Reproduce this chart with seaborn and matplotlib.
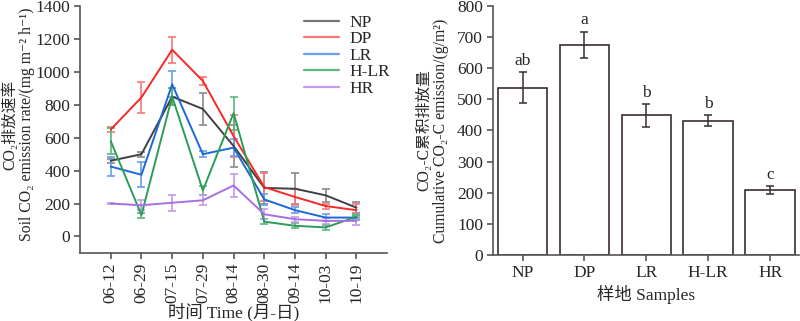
import numpy as np
import pandas as pd
import matplotlib
matplotlib.use("Agg")
import matplotlib.pyplot as plt
import seaborn as sns
from matplotlib.lines import Line2D

sns.set_style("ticks")
plt.rcParams['font.family'] = ['Liberation Serif', 'Noto Sans CJK SC', 'DejaVu Sans']
plt.rcParams['axes.unicode_minus'] = False

dates = ["06-12", "06-29", "07-15", "07-29", "08-14", "08-30", "09-14", "10-03", "10-19"]
series_names = ["NP", "DP", "LR", "H-LR", "HR"]

np_vals = [460, 500, 850, 775, 550, 295, 290, 250, 175]
np_err = [12, 15, 50, 95, 130, 95, 95, 40, 35]
dp_vals = [650, 845, 1135, 945, 610, 300, 240, 185, 160]
dp_err = [15, 95, 80, 25, 130, 85, 50, 15, 40]
lr_vals = [425, 375, 925, 500, 540, 225, 160, 115, 115]
lr_err = [55, 75, 80, 20, 50, 35, 20, 20, 15]
hlr_vals = [580, 130, 850, 280, 750, 90, 65, 55, 120]
hlr_err = [80, 15, 50, 25, 100, 15, 15, 15, 10]
hr_vals = [200, 190, 205, 220, 310, 135, 105, 95, 95]
hr_err = [5, 30, 50, 30, 70, 30, 15, 20, 25]

samples = ["NP", "DP", "LR", "H-LR", "HR"]
cum_vals = [537, 675, 449, 432, 208]
cum_err = [50, 43, 37, 17, 12]
sig_letters = ["ab", "a", "b", "b", "c"]

colors = {"NP": "#404040", "DP": "#f62828", "LR": "#1d68d8", "H-LR": "#2a9d5a", "HR": "#a86ee0"}
err_colors = {"NP": "#8a8a8a", "DP": "#f87878", "LR": "#6a9ee8", "H-LR": "#5ab67e", "HR": "#c49ae8"}

vals = {"NP": np_vals, "DP": dp_vals, "LR": lr_vals, "H-LR": hlr_vals, "HR": hr_vals}
errs = {"NP": np_err, "DP": dp_err, "LR": lr_err, "H-LR": hlr_err, "HR": hr_err}

rows = []
for s in series_names:
    for i, d in enumerate(dates):
        rows.append({"series": s, "x": i, "date": d, "val": vals[s][i], "err": errs[s][i]})
df = pd.DataFrame(rows)

fig = plt.figure(figsize=(8, 3.21), dpi=100)
ax1 = fig.add_axes([0.1, 0.212, 0.384, 0.769])
ax2 = fig.add_axes([0.616, 0.206, 0.383, 0.775])

fs = 12.5
lfs = 11.3
axc = "#555555"
# Left: line chart
for s in series_names:
    sub = df[df.series == s]
    ax1.errorbar(sub.x, sub.val, yerr=sub.err, fmt='none', ecolor=err_colors[s],
                 elinewidth=1.2, capsize=3, capthick=1.2, zorder=2)
sns.lineplot(data=df, x="x", y="val", hue="series", palette=colors, hue_order=series_names,
             ax=ax1, linewidth=1.4, legend=False, zorder=3)
ax1.set_xlim(-1, 9)
ax1.set_ylim(-100, 1400)
ax1.set_yticks(np.arange(0, 1401, 200))
ax1.set_xticks(range(len(dates)))
ax1.set_xticklabels(dates, rotation=90, fontsize=fs)
ax1.tick_params(axis='y', labelsize=fs, length=4, width=1.2, color=axc, pad=3)
ax1.tick_params(axis='x', length=4, width=1.2, color=axc, pad=3)
for sp in ["top", "right"]:
    ax1.spines[sp].set_visible(False)
for sp in ["left", "bottom"]:
    ax1.spines[sp].set_linewidth(1.2)
    ax1.spines[sp].set_color(axc)
ax1.set_xlabel("时间 Time (月-日)", fontsize=fs)
ax1.xaxis.set_label_coords(0.5, -0.20)
ax1.set_ylabel("CO₂排放速率\nSoil CO₂ emission rate/(mg m⁻² h⁻¹)", fontsize=lfs,
               linespacing=1.05)
ax1.yaxis.set_label_coords(-0.147, 0.52)

handles = [Line2D([0], [0], color=err_colors[s] if s != "NP" else "#777777", lw=1.6) for s in series_names]
ax1.legend(handles, series_names, loc="upper left", bbox_to_anchor=(0.73, 0.965), frameon=False,
           fontsize=fs, handlelength=2.0, handletextpad=0.6, labelspacing=0.02, borderpad=0,
           borderaxespad=0)

# Right: bar chart
bdf = pd.DataFrame({"sample": samples, "val": cum_vals, "err": cum_err})
sns.barplot(data=bdf, x="sample", y="val", order=samples, color="white", edgecolor="#3a2e2e",
            linewidth=1.2, width=0.8, ax=ax2, errorbar=None)
ax2.errorbar(range(len(samples)), cum_vals, yerr=cum_err, fmt='none', ecolor="#3a2e2e",
             elinewidth=1.1, capsize=3, capthick=1.1)
for i, (v, e, t) in enumerate(zip(cum_vals, cum_err, sig_letters)):
    ax2.text(i, v + e + 10, t, ha="center", va="bottom", fontsize=fs)
ax2.set_xlim(-0.48, 4.47)
ax2.set_ylim(0, 800)
ax2.set_yticks(np.arange(0, 801, 100))
ax2.tick_params(axis='y', labelsize=fs, length=4, width=1.2, color=axc, pad=3)
ax2.tick_params(axis='x', labelsize=fs, length=4, width=1.2, color=axc, pad=3)
for sp in ["top", "right"]:
    ax2.spines[sp].set_visible(False)
for sp in ["left", "bottom"]:
    ax2.spines[sp].set_linewidth(1.2)
    ax2.spines[sp].set_color(axc)
ax2.set_xlabel("样地 Samples", fontsize=fs, labelpad=3)
ax2.set_ylabel("CO₂-C累积排放量\nCumulative CO₂-C emission/(g/m²)", fontsize=lfs,
               linespacing=1.05)
ax2.yaxis.set_label_coords(-0.143, 0.50)

fig.savefig("out.png", dpi=100)
